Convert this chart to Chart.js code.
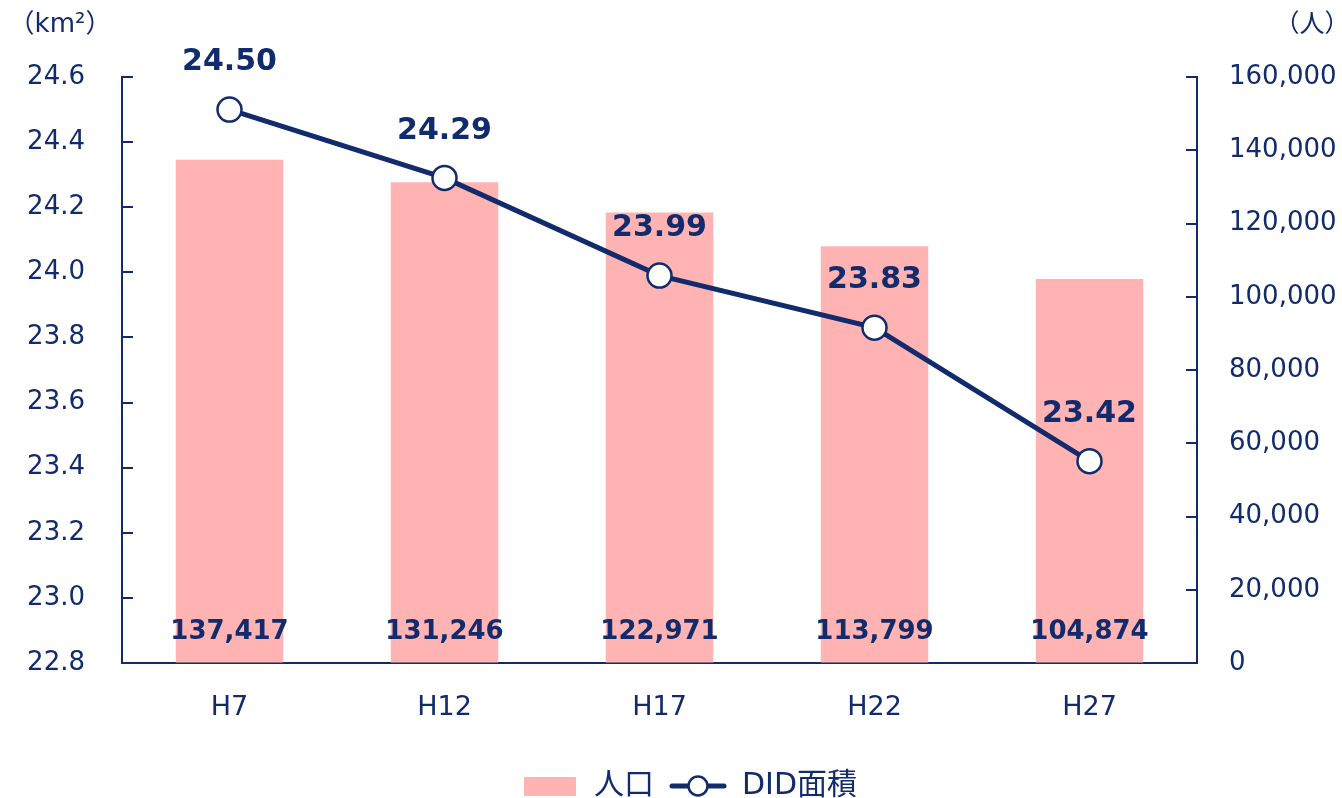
<!DOCTYPE html>
<html>
<head>
<meta charset="utf-8">
<script src="https://cdn.jsdelivr.net/npm/chart.js@4/dist/chart.umd.min.js"></script>
<style>
  html, body { margin: 0; padding: 0; background: #fff; overflow: hidden; }
  /* a bit wider/taller than the window so the centred legend lands where the original has it */
  #wrap { width: 1378px; height: 811px; position: relative; }
</style>
</head>
<body>
<div id="wrap"><canvas id="did-chart"></canvas></div>
<script>
//---------------------DATA--------------------------------------//
const years = ['H7', 'H12', 'H17', 'H22', 'H27'];
const population = [137417, 131246, 122971, 113799, 104874];
const didArea = [24.50, 24.29, 23.99, 23.83, 23.42];
const areaAxis = [22.8, 24.6, 0.2];      // min, max, step (left)
const popAxis = [0, 160000, 20000];      // min, max, step (right)
const seriesNames = ['人口', 'DID面積'];
const unitNames = ['（km²）', '（人）'];

//---------------------STYLE--------------------------------------//
const NAVY = '#112b6c';
const PINK = '#ffb3b3';
const FONT = '"DejaVu Sans", "Noto Sans CJK JP", sans-serif';

// legend icons
function makeBoxIcon() {
  const c = document.createElement('canvas');
  c.width = 52; c.height = 19;
  const ctx = c.getContext('2d');
  ctx.fillStyle = PINK;
  ctx.fillRect(0, 0, 52, 19);
  return c;
}

function makeLineIcon() {
  const c = document.createElement('canvas');
  c.width = 58; c.height = 24;
  const ctx = c.getContext('2d');
  ctx.strokeStyle = NAVY;
  ctx.lineWidth = 5;
  ctx.lineCap = 'round';
  ctx.beginPath();
  ctx.moveTo(3, 12); ctx.lineTo(55, 12);
  ctx.stroke();
  ctx.beginPath();
  ctx.arc(29, 12, 9.5, 0, Math.PI * 2);
  ctx.fillStyle = '#fff';
  ctx.fill();
  ctx.lineWidth = 2.5;
  ctx.stroke();
  return c;
}

const boxIcon = makeBoxIcon();
const lineIcon = makeLineIcon();

//---------------------EXTRAS PLUGIN--------------------------------------//
// inward tick marks, value labels, unit labels
const extrasPlugin = {
  id: 'extras',
  afterDatasetsDraw(chart) {
    const ctx = chart.ctx;
    const { left, right, bottom } = chart.chartArea;
    const yl = chart.scales.yArea;
    const yr = chart.scales.yPop;

    ctx.save();
    ctx.strokeStyle = NAVY;
    ctx.lineWidth = 2;
    yl.ticks.forEach(t => {
      const y = Math.round(yl.getPixelForValue(t.value));
      ctx.beginPath(); ctx.moveTo(left, y); ctx.lineTo(left + 11, y); ctx.stroke();
    });
    yr.ticks.forEach(t => {
      const y = Math.round(yr.getPixelForValue(t.value));
      ctx.beginPath(); ctx.moveTo(right, y); ctx.lineTo(right - 11, y); ctx.stroke();
    });

    ctx.fillStyle = NAVY;
    ctx.textAlign = 'center';
    ctx.textBaseline = 'middle';

    ctx.font = 'bold 26px ' + FONT;
    chart.getDatasetMeta(0).data.forEach((bar, i) => {
      ctx.fillText(population[i].toLocaleString('en-US'), bar.x, bottom - 31);
    });

    ctx.font = 'bold 30px ' + FONT;
    chart.getDatasetMeta(1).data.forEach((pt, i) => {
      ctx.fillText(didArea[i].toFixed(2), pt.x, pt.y - 47);
    });

    ctx.font = '26px ' + FONT;
    ctx.fillText(unitNames[0], 60, 25);
    ctx.font = '25px ' + FONT;
    ctx.fillText(unitNames[1], 1312, 25);
    ctx.restore();
  }
};

//---------------------CHART--------------------------------------//
const tickFont = { family: FONT, size: 26 };

new Chart(document.getElementById('did-chart'), {
  data: {
    labels: years,
    datasets: [{
      type: 'bar',
      label: seriesNames[0],
      data: population,
      yAxisID: 'yPop',
      backgroundColor: PINK,
      barPercentage: 0.5,
      categoryPercentage: 1.0,
      order: 2
    }, {
      type: 'line',
      label: seriesNames[1],
      data: didArea,
      yAxisID: 'yArea',
      borderColor: NAVY,
      borderWidth: 5,
      pointRadius: 12,
      pointBackgroundColor: '#fff',
      pointBorderColor: NAVY,
      pointBorderWidth: 2.5,
      tension: 0,
      order: 1
    }]
  },
  options: {
    responsive: true,
    maintainAspectRatio: false,
    animation: false,
    layout: { padding: { top: 77, left: 0, right: 0, bottom: 0 } },
    plugins: {
      tooltip: { enabled: false },
      legend: {
        position: 'bottom',
        labels: {
          usePointStyle: true,
          pointStyleWidth: 58,
          padding: 15,
          color: NAVY,
          font: { family: FONT, size: 30 },
          sort: (a, b) => a.datasetIndex - b.datasetIndex,
          generateLabels(chart) {
            const items = Chart.defaults.plugins.legend.labels.generateLabels(chart);
            items.forEach(it => {
              it.pointStyle = it.datasetIndex === 0 ? boxIcon : lineIcon;
            });
            return items;
          }
        }
      }
    },
    scales: {
      x: {
        grid: { display: true, drawOnChartArea: false, drawTicks: false },
        border: { color: NAVY, width: 2 },
        ticks: { color: NAVY, font: { family: FONT, size: 27 }, padding: 29 },
        afterFit: s => { s.height = 93; }
      },
      yArea: {
        position: 'left',
        min: areaAxis[0],
        max: areaAxis[1],
        grid: { display: true, drawOnChartArea: false, drawTicks: false },
        border: { color: NAVY, width: 2 },
        ticks: {
          stepSize: areaAxis[2],
          color: NAVY,
          font: tickFont,
          padding: 37,
          callback: v => Number(v).toFixed(1)
        },
        afterFit: s => { s.width = 122; }
      },
      yPop: {
        position: 'right',
        min: popAxis[0],
        max: popAxis[1],
        grid: { display: true, drawOnChartArea: false, drawTicks: false },
        border: { color: NAVY, width: 2 },
        ticks: {
          stepSize: popAxis[2],
          color: NAVY,
          font: tickFont,
          padding: 32,
          callback: v => Number(v).toLocaleString('en-US')
        },
        afterFit: s => { s.width = 181; }
      }
    }
  },
  plugins: [extrasPlugin]
});
</script>
</body>
</html>
